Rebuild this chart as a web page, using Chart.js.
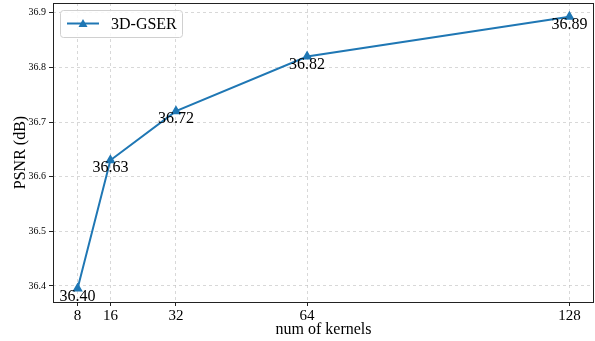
<!DOCTYPE html>
<html>
<head>
<meta charset="utf-8">
<script src="https://cdn.jsdelivr.net/npm/chart.js@4.4.0/dist/chart.umd.min.js"></script>
<style>
  html, body { margin: 0; padding: 0; background: #fff; }
  #wrap { width: 595px; height: 341px; }
</style>
</head>
<body>
<div id="wrap"><canvas id="psnr_chart" width="595" height="341"></canvas></div>
<script>
// data
const kernels = [8, 16, 32, 64, 128];
const psnr = [36.395, 36.63, 36.72, 36.82, 36.893];
const pointLabels = ['36.40', '36.63', '36.72', '36.82', '36.89'];
const xTicks = [8, 16, 32, 64, 128];
const yTicks = [36.4, 36.5, 36.6, 36.7, 36.8, 36.9];
const seriesName = '3D-GSER';

const SERIF = "'Liberation Serif', 'DejaVu Serif', serif";
const BLUE = '#1f77b4';
const GRID = 'rgba(190,190,190,0.6)';

// value labels under each point + matplotlib-like frame and legend
const extras = {
    id: 'extras',
    afterDatasetsDraw(chart) {
        const ctx = chart.ctx;
        const xs = chart.scales.x, ys = chart.scales.y;
        ctx.save();
        ctx.font = '16px ' + SERIF;
        ctx.fillStyle = '#000';
        ctx.textAlign = 'center';
        ctx.textBaseline = 'top';
        for (let i = 0; i < kernels.length; i++) {
            ctx.fillText(pointLabels[i], xs.getPixelForValue(kernels[i]), ys.getPixelForValue(psnr[i]));
        }
        ctx.restore();
    },
    afterDraw(chart) {
        const ctx = chart.ctx;
        const a = chart.chartArea;
        ctx.save();
        ctx.strokeStyle = '#222';
        ctx.lineWidth = 1;
        ctx.strokeRect(Math.round(a.left) + 0.5, Math.round(a.top) + 0.5,
            Math.round(a.right - a.left) - 1, Math.round(a.bottom - a.top));

        // legend box
        const lx = a.left + 7, ly = a.top + 7, lw = 122, lh = 27;
        ctx.fillStyle = 'rgba(255,255,255,0.85)';
        ctx.strokeStyle = '#d0d0d0';
        ctx.beginPath();
        ctx.roundRect(lx + 0.5, ly + 0.5, lw, lh, 3);
        ctx.fill();
        ctx.stroke();
        const cy = ly + 13.5;
        ctx.strokeStyle = BLUE;
        ctx.lineWidth = 2;
        ctx.beginPath();
        ctx.moveTo(lx + 7, cy);
        ctx.lineTo(lx + 39, cy);
        ctx.stroke();
        ctx.fillStyle = BLUE;
        ctx.beginPath();
        ctx.moveTo(lx + 23, cy - 4.5);
        ctx.lineTo(lx + 27.5, cy + 3.5);
        ctx.lineTo(lx + 18.5, cy + 3.5);
        ctx.closePath();
        ctx.fill();
        ctx.fillStyle = '#000';
        ctx.font = '16px ' + SERIF;
        ctx.textAlign = 'left';
        ctx.textBaseline = 'middle';
        ctx.fillText(seriesName, lx + 51, cy + 1);
        ctx.restore();
    }
};

let ctx = document.getElementById('psnr_chart').getContext('2d');
let myChart = new Chart(ctx, {
    type: 'line',
    data: {
        datasets: [{
            label: seriesName,
            data: kernels.map((k, i) => ({ x: k, y: psnr[i] })),
            borderColor: BLUE,
            backgroundColor: BLUE,
            borderWidth: 2,
            pointStyle: 'triangle',
            pointRadius: 4,
            pointHoverRadius: 4,
            tension: 0
        }]
    },
    options: {
        responsive: false,
        animation: false,
        events: [],
        layout: { autoPadding: false, padding: { top: 3, right: 1, left: 0, bottom: 0 } },
        plugins: {
            legend: { display: false },
            tooltip: { enabled: false }
        },
        scales: {
            x: {
                type: 'linear',
                min: 2,
                max: 134,
                afterBuildTicks: s => { s.ticks = xTicks.map(v => ({ value: v })); },
                afterFit: s => { s.height = 39; s.paddingLeft = 0; s.paddingRight = 0; },
                border: { display: false, dash: [3, 3] },
                grid: {
                    color: GRID,
                    tickColor: '#222',
                    tickLength: 4,
                    drawTicks: true
                },
                ticks: {
                    color: '#000',
                    padding: 1,
                    maxRotation: 0,
                    font: { family: SERIF, size: 15 }
                },
                title: {
                    display: true,
                    text: 'num of kernels',
                    color: '#000',
                    padding: { top: 0, bottom: 2 },
                    font: { family: SERIF, size: 16 }
                }
            },
            y: {
                min: 36.3705,
                max: 36.918,
                afterBuildTicks: s => { s.ticks = yTicks.map(v => ({ value: v })); },
                afterFit: s => { s.width = 53; s.paddingTop = 0; s.paddingBottom = 0; },
                border: { display: false, dash: [3, 3] },
                grid: {
                    color: GRID,
                    tickColor: '#222',
                    tickLength: 4
                },
                ticks: {
                    color: '#000',
                    padding: 3,
                    callback: v => v.toFixed(1),
                    font: { family: SERIF, size: 10 }
                },
                title: {
                    display: true,
                    text: 'PSNR (dB)',
                    color: '#000',
                    padding: { top: 11, bottom: 0 },
                    font: { family: SERIF, size: 16 }
                }
            }
        }
    },
    plugins: [extras]
});
</script>
</body>
</html>
